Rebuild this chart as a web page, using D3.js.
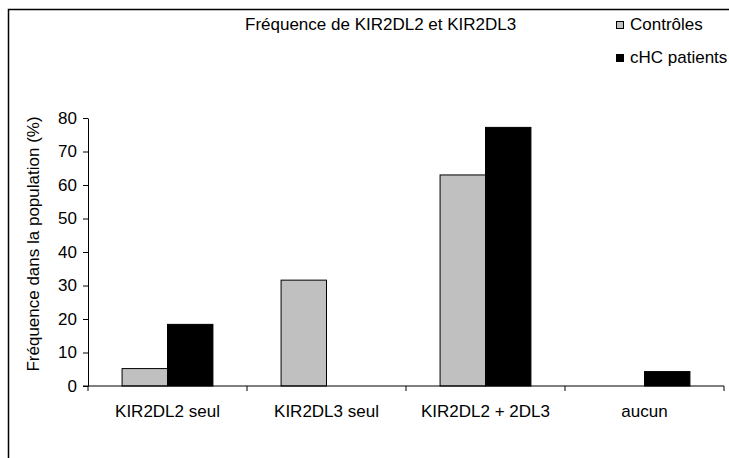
<!DOCTYPE html>
<html>
<head>
<meta charset="utf-8">
<script src="https://cdn.jsdelivr.net/npm/d3@7"></script>
<style>
  html, body { margin: 0; padding: 0; background: #fff; }
  svg text { font-family: "Liberation Sans", Arial, sans-serif; fill: #000; }
</style>
</head>
<body>
<svg id="chart" width="729" height="458"></svg>
<script>
// Genotype groups and frequencies (%)
const categories = ["KIR2DL2 seul", "KIR2DL3 seul", "KIR2DL2 + 2DL3", "aucun"];
const seriesNames = ["Contrôles", "cHC patients"];
const controles = [5.2, 31.6, 63.0, 0];
const patients = [18.4, 0, 77.2, 4.3];
const yTicks = [0, 10, 20, 30, 40, 50, 60, 70, 80];
const seriesColors = ["#c0c0c0", "#000000"];

const svg = d3.select("#chart");
const W = 729, H = 458;

svg.append("rect").attr("width", W).attr("height", H).attr("fill", "#fff");

// chart-area frame (runs past the right and bottom edges)
svg.append("rect")
  .attr("x", 8.5).attr("y", 9.5)
  .attr("width", 760).attr("height", 480)
  .attr("fill", "none").attr("stroke", "#000").attr("stroke-width", 1.5);

const plot = { left: 88, right: 724, top: 118, bottom: 386 };

const x = d3.scaleBand().domain(categories).range([plot.left, plot.right]).padding(0);
const inner = d3.scaleBand().domain(seriesNames)
  .range([0, x.bandwidth()]).paddingInner(0).paddingOuter(0.75);
const y = d3.scaleLinear().domain([0, 80]).range([plot.bottom, plot.top]);

const rows = categories.map((c, i) => ({ cat: c, values: [controles[i], patients[i]] }));

// bars
const g = svg.append("g");
rows.forEach(r => {
  r.values.forEach((v, j) => {
    if (v <= 0) return;
    g.append("rect")
      .attr("x", x(r.cat) + inner(seriesNames[j]))
      .attr("y", y(v))
      .attr("width", inner.bandwidth())
      .attr("height", y(0) - y(v))
      .attr("fill", seriesColors[j])
      .attr("stroke", "#000").attr("stroke-width", 1);
  });
});

// y axis
const yAxis = svg.append("g")
  .attr("transform", `translate(${plot.left},0)`)
  .call(d3.axisLeft(y).tickValues(yTicks).tickSize(5).tickPadding(6).tickSizeOuter(0));
yAxis.selectAll("text").attr("font-size", 17);
yAxis.select(".domain").attr("stroke", "#000");

// x axis with ticks between categories
const xAxis = svg.append("g").attr("transform", `translate(0,${plot.bottom})`);
xAxis.append("line")
  .attr("x1", plot.left - 5).attr("x2", plot.right)
  .attr("stroke", "#000");
const bounds = categories.map(c => x(c)).concat([plot.right]);
xAxis.selectAll("line.tk").data(bounds).join("line").attr("class", "tk")
  .attr("x1", d => d).attr("x2", d => d).attr("y1", 0).attr("y2", 5)
  .attr("stroke", "#000");
xAxis.selectAll("text").data(categories).join("text")
  .attr("x", d => x(d) + x.bandwidth() / 2)
  .attr("y", 31)
  .attr("text-anchor", "middle")
  .attr("font-size", 17)
  .text(d => d);

// y axis title
svg.append("text")
  .attr("transform", `translate(39,${(plot.top + plot.bottom) / 2 - 8}) rotate(-90)`)
  .attr("text-anchor", "middle")
  .attr("font-size", 17)
  .text("Fréquence dans la population (%)");

// chart title
svg.append("text")
  .attr("x", 245).attr("y", 30)
  .attr("font-size", 17)
  .text("Fréquence de KIR2DL2 et KIR2DL3");

// legend
const leg = svg.append("g").attr("transform", "translate(616,0)");
seriesNames.forEach((s, i) => {
  leg.append("rect")
    .attr("x", 0.5).attr("y", 21.5 + i * 33)
    .attr("width", 7).attr("height", 7)
    .attr("fill", seriesColors[i]).attr("stroke", "#000");
  leg.append("text")
    .attr("x", 14).attr("y", 30 + i * 33)
    .attr("font-size", 17)
    .text(s);
});
</script>
</body>
</html>
